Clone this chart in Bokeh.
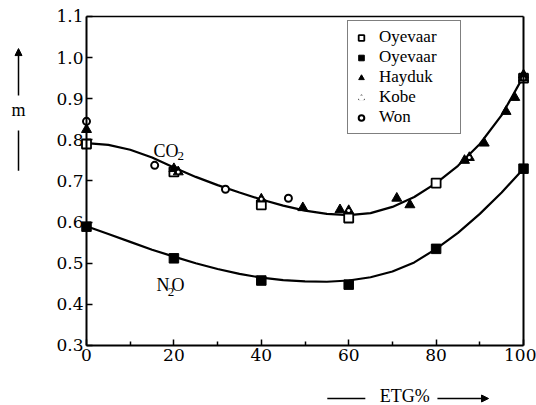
from bokeh.plotting import figure
from bokeh.models import (Range1d, Legend, LegendItem, Label, Arrow, NormalHead,
                          FixedTicker, CustomJSTickFormatter, LinearAxis)
from bokeh.embed import file_html
from bokeh.resources import INLINE

# --- data ---
oy_co2_x = [0, 20, 40, 60, 80, 100]
oy_co2_y = [0.79, 0.722, 0.642, 0.610, 0.695, 0.950]

oy_n2o_x = [0, 20, 40, 60, 80, 100]
oy_n2o_y = [0.589, 0.512, 0.458, 0.448, 0.535, 0.730]

hayduk_x = [0, 20, 49.5, 58, 71, 74, 86.5, 91, 96, 98, 100]
hayduk_y = [0.825, 0.730, 0.635, 0.630, 0.658, 0.642, 0.750, 0.792, 0.869, 0.903, 0.958]

kobe_x = [21, 40, 60, 87.6, 100]
kobe_y = [0.722, 0.656, 0.628, 0.757, 0.950]

won_x = [0, 15.6, 31.8, 46.2]
won_y = [0.845, 0.738, 0.680, 0.658]

curve_x = [0, 5, 10, 15, 20, 25, 30, 35, 40, 45, 50, 55, 60, 65, 70, 75, 80, 85, 90, 95, 100]
co2_curve = [0.792, 0.788, 0.776, 0.757, 0.733, 0.710, 0.690, 0.672, 0.655, 0.640, 0.628,
             0.620, 0.617, 0.622, 0.637, 0.661, 0.695, 0.737, 0.790, 0.860, 0.955]
n2o_curve = [0.590, 0.571, 0.552, 0.533, 0.516, 0.500, 0.486, 0.474, 0.465, 0.459, 0.456,
             0.455, 0.458, 0.466, 0.480, 0.502, 0.535, 0.574, 0.620, 0.672, 0.730]

x_ticks = [0, 20, 40, 60, 80, 100]
x_minor = [10, 30, 50, 70, 90]
y_ticks = [0.3, 0.4, 0.5, 0.6, 0.7, 0.8, 0.9, 1.0, 1.1]

SERIF = "Liberation Serif"
TICKFONT = "DejaVu Serif"

# frame covers the whole canvas; axes are pinned at data positions
p = figure(width=536, height=405, output_backend="svg", toolbar_location=None,
           x_range=Range1d(-19.68, 102.97), y_range=Range1d(0.1541, 1.1389),
           x_axis_location=None, y_axis_location=None,
           min_border=0, min_border_left=0, min_border_right=0,
           min_border_top=0, min_border_bottom=0)
p.grid.visible = False
p.outline_line_color = None

def style(ax):
    ax.axis_line_width = 2
    ax.axis_line_color = "black"
    ax.major_tick_in = 6
    ax.major_tick_out = 0
    ax.major_tick_line_width = 1.5
    ax.minor_tick_in = 4
    ax.minor_tick_out = 0
    ax.minor_tick_line_width = 1.5
    ax.major_label_text_font = TICKFONT
    ax.major_label_text_font_size = "17px"
    ax.major_label_text_color = "black"

xax = LinearAxis(fixed_location=0.3, bounds=(0, 100),
                 ticker=FixedTicker(ticks=x_ticks, minor_ticks=x_minor))
style(xax)
xax.major_label_standoff = 4
p.add_layout(xax, "below")

yax = LinearAxis(fixed_location=0, bounds=(0.3, 1.1),
                 ticker=FixedTicker(ticks=y_ticks),
                 formatter=CustomJSTickFormatter(code="return tick.toFixed(1);"))
style(yax)
yax.major_label_standoff = 3
yax.minor_tick_line_color = None
p.add_layout(yax, "left")

# frame lines on top and right
rax = LinearAxis(fixed_location=100, bounds=(0.3, 1.1), ticker=FixedTicker(ticks=[]))
rax.axis_line_width = 2
rax.major_label_text_font_size = "0px"
rax.major_tick_line_color = None
rax.minor_tick_line_color = None
p.add_layout(rax, "right")

tax = LinearAxis(fixed_location=1.1, bounds=(0, 100), ticker=FixedTicker(ticks=[]))
tax.axis_line_width = 1.5
tax.major_label_text_font_size = "0px"
tax.major_tick_line_color = None
tax.minor_tick_line_color = None
p.add_layout(tax, "above")

# curves
p.line(curve_x, co2_curve, line_color="black", line_width=2.2)
p.line(curve_x, n2o_curve, line_color="black", line_width=2.2)

# markers
r_oy1 = p.scatter(oy_co2_x, oy_co2_y, marker="square", size=9, fill_color="white",
                  line_color="black", line_width=1.8)
r_oy2 = p.scatter(oy_n2o_x, oy_n2o_y, marker="square", size=9.5, fill_color="black",
                  line_color="black")
r_hay = p.scatter(hayduk_x, hayduk_y, marker="triangle", size=10, fill_color="black",
                  line_color="black")
r_kobe = p.scatter(kobe_x, kobe_y, marker="triangle", size=10, fill_color="black",
                   line_color="black")
r_kobe_dot = p.scatter(kobe_x, kobe_y, marker="circle", size=3, fill_color="white",
                       line_color=None)
r_won = p.scatter(won_x, won_y, marker="circle", size=7, fill_color="white",
                  line_color="black", line_width=2)

legend = Legend(items=[
    LegendItem(label="Oyevaar", renderers=[r_oy1]),
    LegendItem(label="Oyevaar", renderers=[r_oy2]),
    LegendItem(label="Hayduk", renderers=[r_hay]),
    LegendItem(label="Kobe", renderers=[r_kobe, r_kobe_dot]),
    LegendItem(label="Won", renderers=[r_won]),
], location=(347, 271))
legend.label_text_font = SERIF
legend.label_text_font_size = "17px"
legend.label_text_color = "black"
legend.label_height = 15
legend.label_width = 75
legend.glyph_height = 15
legend.glyph_width = 14
legend.spacing = 0
legend.padding = 6
legend.margin = 0
legend.label_standoff = 11
legend.border_line_color = "black"
legend.border_line_width = 1.5
legend.background_fill_alpha = 1
p.add_layout(legend)

lab = dict(text_font=SERIF, text_color="black", text_baseline="alphabetic")
# curve labels
p.add_layout(Label(x=15.33, y=0.774, text="CO", text_font_size="18px", **lab))
p.add_layout(Label(x=20.8, y=0.762, text="2", text_font_size="13px", **lab))
p.add_layout(Label(x=16.0, y=0.446, text="N", text_font_size="18px", **lab))
p.add_layout(Label(x=18.6, y=0.429, text="2", text_font_size="13px", **lab))
p.add_layout(Label(x=19.45, y=0.446, text="O", text_font_size="18px", **lab))

# y axis label with arrow
p.add_layout(Arrow(end=NormalHead(size=7, fill_color="black", line_color="black"),
                   x_start=-15.56, y_start=0.908, x_end=-15.56, y_end=1.022,
                   line_width=1.5))
p.add_layout(Label(x=-15.56, y=0.872, text="m", text_font_size="18px",
                   text_align="center", text_font=SERIF, text_color="black",
                   text_baseline="middle"))
p.add_layout(Arrow(end=None, x_start=-15.56, y_start=0.823, x_end=-15.56, y_end=0.725,
                   line_width=1.5))

# x axis label with arrow
p.add_layout(Arrow(end=None, x_start=55.1, y_start=0.1711, x_end=63.8, y_end=0.1711,
                   line_width=1.5))
p.add_layout(Label(x=72.8, y=0.176, text="ETG%", text_font_size="18px",
                   text_align="center", text_font=SERIF, text_color="black",
                   text_baseline="middle"))
p.add_layout(Arrow(end=NormalHead(size=7, fill_color="black", line_color="black"),
                   x_start=80.3, y_start=0.1711, x_end=92.0, y_end=0.1711, line_width=1.5))

open("out.html", "w").write(file_html(p, INLINE))
